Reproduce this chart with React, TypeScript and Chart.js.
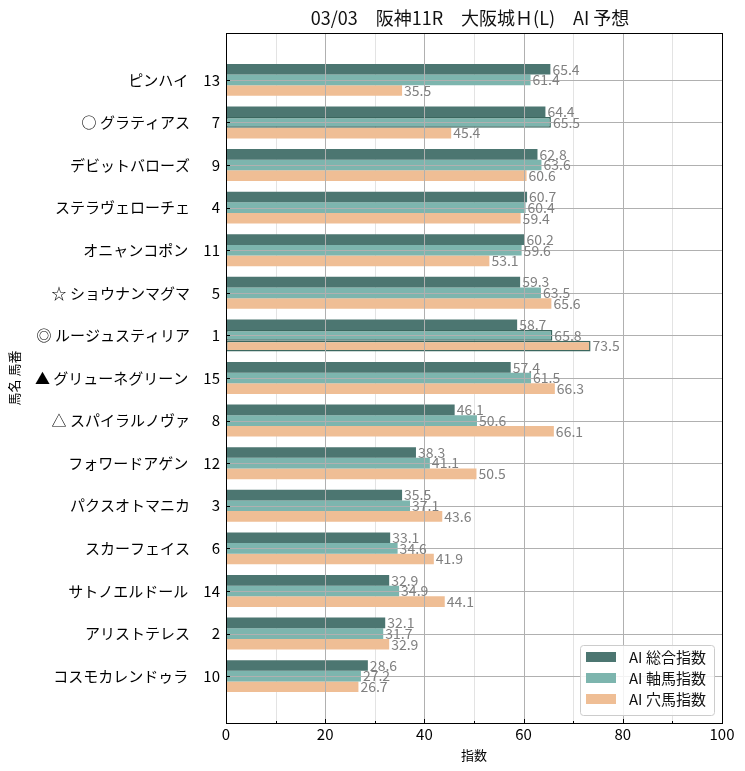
import React, { useEffect, useRef } from "react";
import { Chart, registerables } from "chart.js";

Chart.register(...registerables);

const FONT = '"Noto Sans CJK JP", "Noto Sans", sans-serif';

const chartTitle = "03/03　阪神11R　大阪城Ｈ(L)　AI 予想";
const xAxisTitle = "指数";
const yAxisTitle = "馬名 馬番";

const horseNames = [
  "ピンハイ",
  "○ グラティアス",
  "デビットバローズ",
  "ステラヴェローチェ",
  "オニャンコポン",
  "☆ ショウナンマグマ",
  "◎ ルージュスティリア",
  "▲ グリューネグリーン",
  "△ スパイラルノヴァ",
  "フォワードアゲン",
  "パクスオトマニカ",
  "スカーフェイス",
  "サトノエルドール",
  "アリストテレス",
  "コスモカレンドゥラ",
];
const horseNumbers = [13, 7, 9, 4, 11, 5, 1, 15, 8, 12, 3, 6, 14, 2, 10];

const seriesNames = ["AI 総合指数", "AI 軸馬指数", "AI 穴馬指数"];
const sogoValues = [65.4, 64.4, 62.8, 60.7, 60.2, 59.3, 58.7, 57.4, 46.1, 38.3, 35.5, 33.1, 32.9, 32.1, 28.6];
const jikuValues = [61.4, 65.5, 63.6, 60.4, 59.6, 63.5, 65.8, 61.5, 50.6, 41.1, 37.1, 34.6, 34.9, 31.7, 27.2];
const anaValues = [35.5, 45.4, 60.6, 59.4, 53.1, 65.6, 73.5, 66.3, 66.1, 50.5, 43.6, 41.9, 44.1, 32.9, 26.7];
// bars outlined in the reference: [series, row]
const outlinedBars = [[1, 1], [1, 6], [2, 6]];

const seriesColors = ["#4c7671", "#7db5ae", "#efbe95"];
const outlineColor = "#3b675f";

const xMajorTicks = [0, 20, 40, 60, 80, 100];
const xMinorTicks = [10, 30, 50, 70, 90];

const yLabels = horseNames.map(
  (n, i) => `${n}　${horseNumbers[i] < 10 ? "  " : ""}${horseNumbers[i]}`
);

const decorPlugin = {
  id: "decor",
  beforeDatasetsDraw(chart: any) {
    const { ctx, chartArea: a, scales } = chart;
    const x = scales.x;
    ctx.save();
    ctx.strokeStyle = "#e3e3e3";
    ctx.lineWidth = 1;
    for (const v of xMinorTicks) {
      const px = Math.round(x.getPixelForValue(v)) + 0.5;
      ctx.beginPath();
      ctx.moveTo(px, a.top);
      ctx.lineTo(px, a.bottom);
      ctx.stroke();
    }
    ctx.restore();
  },
  afterDatasetsDraw(chart: any) {
    const { ctx, chartArea: a, scales } = chart;
    const x = scales.x;
    const y = scales.y;
    ctx.save();
    // major vertical grid
    ctx.strokeStyle = "#b0b0b0";
    ctx.lineWidth = 1;
    for (const v of xMajorTicks) {
      const px = Math.round(x.getPixelForValue(v)) + 0.5;
      ctx.beginPath();
      ctx.moveTo(px, a.top);
      ctx.lineTo(px, a.bottom);
      ctx.stroke();
    }
    // horizontal grid at categories
    for (let i = 0; i < yLabels.length; i++) {
      const py = Math.round(y.getPixelForValue(i)) + 0.5;
      ctx.beginPath();
      ctx.moveTo(a.left, py);
      ctx.lineTo(a.right, py);
      ctx.stroke();
    }
    // value labels
    ctx.fillStyle = "#808080";
    ctx.font = `14px ${FONT}`;
    ctx.textAlign = "left";
    ctx.textBaseline = "middle";
    chart.data.datasets.forEach((ds: any, di: number) => {
      const meta = chart.getDatasetMeta(di);
      meta.data.forEach((bar: any, i: number) => {
        const v = ds.data[i].x;
        ctx.fillText(v.toFixed(1), bar.x + 2, bar.y);
      });
    });
    // frame
    ctx.strokeStyle = "#000";
    ctx.lineWidth = 1;
    ctx.strokeRect(Math.round(a.left) + 0.5, Math.round(a.top) + 0.5, Math.round(a.right - a.left), Math.round(a.bottom - a.top));
    // inward ticks
    ctx.beginPath();
    for (const v of xMajorTicks) {
      const px = Math.round(x.getPixelForValue(v)) + 0.5;
      ctx.moveTo(px, a.bottom);
      ctx.lineTo(px, a.bottom - 4);
    }
    for (const v of xMinorTicks) {
      const px = Math.round(x.getPixelForValue(v)) + 0.5;
      ctx.moveTo(px, a.bottom);
      ctx.lineTo(px, a.bottom - 2);
    }
    for (let i = 0; i < yLabels.length; i++) {
      const py = Math.round(y.getPixelForValue(i)) + 0.5;
      ctx.moveTo(a.left, py);
      ctx.lineTo(a.left + 4, py);
    }
    ctx.stroke();
    // legend
    const bw = 134, bh = 70;
    const bx = a.right - 8 - bw;
    const by = a.bottom - 8 - bh;
    ctx.fillStyle = "rgba(255,255,255,0.85)";
    ctx.strokeStyle = "#cccccc";
    ctx.beginPath();
    ctx.roundRect(bx + 0.5, by + 0.5, bw, bh, 3);
    ctx.fill();
    ctx.stroke();
    ctx.font = `15px ${FONT}`;
    ctx.textBaseline = "middle";
    seriesNames.forEach((name, i) => {
      const ry = by + 7 + i * 21;
      ctx.fillStyle = seriesColors[i];
      ctx.fillRect(bx + 6, ry, 30, 10);
      ctx.fillStyle = "#111";
      ctx.fillText(name, bx + 49, ry + 5);
    });
    ctx.restore();
  },
  afterDraw(chart: any) {
    const { ctx, chartArea: a } = chart;
    ctx.save();
    ctx.fillStyle = "#111";
    ctx.font = `18px ${FONT}`;
    ctx.textAlign = "center";
    ctx.textBaseline = "middle";
    ctx.fillText(chartTitle, (a.left + a.right) / 2 - 4, 18);
    ctx.restore();
  },
};

export default function App() {
  const canvasRef = useRef<HTMLCanvasElement | null>(null);

  useEffect(() => {
    if (!canvasRef.current) return;
    const valueSets = [sogoValues, jikuValues, anaValues];
    const datasets = valueSets.map((vals, si) => ({
      label: seriesNames[si],
      data: vals.map((v, i) => ({ x: v, y: i })),
      backgroundColor: seriesColors[si],
      borderColor: outlineColor,
      borderWidth: vals.map((_, i) =>
        outlinedBars.some(([s, r]) => s === si && r === i) ? 1.5 : 0
      ),
      borderSkipped: false,
      categoryPercentage: 0.75,
      barPercentage: 1.0,
    }));
    const chart = new Chart(canvasRef.current, {
      type: "bar",
      data: { datasets } as any,
      plugins: [decorPlugin],
      options: {
        indexAxis: "y",
        animation: false,
        responsive: false,
        maintainAspectRatio: false,
        layout: { padding: { top: 33, right: 23, left: 0, bottom: 0 } },
        scales: {
          x: {
            type: "linear",
            min: 0,
            max: 100,
            offset: false,
            afterBuildTicks: (s: any) => {
              s.ticks = xMajorTicks.map((v) => ({ value: v }));
            },
            ticks: {
              color: "#000",
              font: { family: FONT, size: 15 },
              padding: 2,
              maxRotation: 0,
            },
            grid: { display: false, drawTicks: false },
            border: { display: false },
            title: {
              display: true,
              text: xAxisTitle,
              color: "#000",
              font: { family: FONT, size: 13 },
              padding: { top: 0, bottom: 8 },
            },
            afterFit: (s: any) => {
              s.height = 48;
            },
          },
          y: {
            type: "linear",
            reverse: true,
            offset: false,
            min: -1.1,
            max: 15.1,
            afterBuildTicks: (s: any) => {
              s.ticks = yLabels.map((_, i) => ({ value: i }));
            },
            ticks: {
              autoSkip: false,
              color: "#000",
              font: { family: FONT, size: 15 },
              padding: 6,
              callback: (v: any) => yLabels[v as number],
            },
            grid: { display: false, drawTicks: false },
            border: { display: false },
            title: {
              display: true,
              text: yAxisTitle,
              color: "#000",
              font: { family: FONT, size: 13 },
              padding: { top: 6, bottom: 0 },
            },
            afterFit: (s: any) => {
              s.width = 226;
            },
          },
        },
        plugins: {
          legend: { display: false },
          title: { display: false },
          tooltip: { enabled: false },
        },
      } as any,
    });
    return () => chart.destroy();
  }, []);

  return (
    <div style={{ position: "absolute", left: 0, top: 0, width: 745, height: 771 }}>
      <canvas ref={canvasRef} width={745} height={771} />
    </div>
  );
}
